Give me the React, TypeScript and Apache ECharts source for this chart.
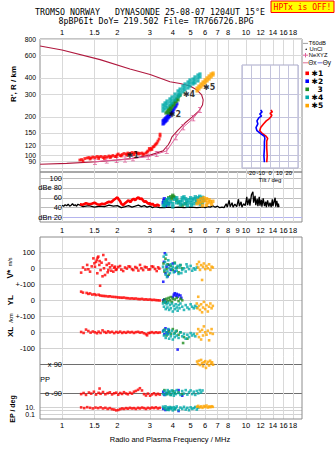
import React, { useEffect, useRef } from "react";
import * as echarts from "echarts";

type P = [number, number];

// ---------- axes / ticks ----------
const FREQ_TICKS_TOP = [1, 1.5, 2, 3, 4, 5, 6, 7, 8, 10, 12, 14, 16, 18];
const FREQ_TICKS_MID = [1, 1.5, 2, 3, 4, 5, 6, 7, 8, 9, 10, 12, 14, 16, 18];
const FREQ_TICKS_BOT = [1, 1.5, 2, 3, 4, 5, 6, 7, 8, 10, 12, 14, 16, 18];
const FREQ_RANGE = [0.759, 20.15];
const HEIGHT_TICKS = [80, 90, 100, 120, 150, 200, 300, 400, 600, 800];
const HEIGHT_RANGE = [74.8, 800];
const DB_TICKS = [20, 40, 60, 80, 100];
const DB_RANGE = [11, 112.2];
const V_RANGE = [-100, 195.6];
const V_TICKS = [0, 100];
const YL_RANGE = [-100, 100];
const YL_TICKS = [-100, 0, 100];
const XL_RANGE = [-150, 100];
const XL_TICKS = [-100, 0];
const PP_RANGE = [-132.1, 142.9];
const PP_LINES = [-90, 90];
const PP_LABELS = [-90, 0, 90];
const EP_RANGE = [0.00516, 828];
const EP_LINES = [0.1, 1, 10];
const EP_LABELS = [0.1, 10];
const TILT_RANGE = [-30, 30];
const TILT_TICKS = [-20, -10, 0, 10, 20];
const TILT_H_RANGE = [80.3, 503];
const TILT_H_TICKS = [90, 100, 120, 150, 200, 300, 400];

const MODE_NAMES = ["✱1", "✱2", "3", "✱4", "✱5"];
const MODE_COLORS = ["#ff0000", "#0000ff", "#1e8c1e", "#00aaaa", "#ffa500"];

// ---------- profiles ----------
const PROFILE: P[] = [
  [0.76, 706], [1.0, 657], [1.61, 554], [2.34, 469], [3.01, 425], [3.86, 374], [4.38, 362],
  [4.96, 346], [5.42, 322], [5.74, 295], [5.85, 270], [5.8, 247], [5.55, 222], [5.09, 199],
  [4.66, 179], [4.27, 158], [3.96, 140], [3.86, 128], [3.77, 121], [3.54, 109], [3.01, 101],
  [2.43, 95.4], [1.99, 92.6], [1.55, 89.8], [1.06, 87.3], [0.76, 85.8],
];
const NEXYZ: P[] = [
  [1.51, 89.8], [1.75, 91.8], [1.98, 92.6], [2.2, 93.4], [2.43, 95.4], [2.94, 98.2],
  [3.27, 103], [3.71, 109], [4.16, 139], [4.56, 166], [5.17, 195], [5.62, 226],
];

// ---------- virtual heights (MHz, km) ----------
const M1_H: P[] = [
  [1.25, 92.6], [1.28, 93.4], [1.3, 91.0], [1.33, 95.1], [1.37, 96.0], [1.4, 96.8], [1.42, 94.3],
  [1.44, 96.0], [1.47, 97.7], [1.51, 96.8], [1.55, 98.6], [1.58, 95.1], [1.59, 97.7], [1.63, 98.6],
  [1.67, 96.8], [1.7, 95.1], [1.71, 98.6], [1.76, 97.7], [1.8, 99.5], [1.83, 96.8], [1.85, 98.6],
  [1.89, 100.4], [1.94, 98.6], [1.97, 98.6], [1.99, 101.3], [2.02, 103.1], [2.07, 100.4], [2.1, 99.5],
  [2.12, 102.2], [2.17, 104.0], [2.23, 103.1], [2.25, 101.3], [2.28, 104.9], [2.34, 104.0],
  [2.4, 105.8], [2.45, 102.2], [2.46, 104.9], [2.52, 105.8], [2.59, 104.9], [2.6, 103.1],
  [2.65, 104.0], [2.72, 104.9], [2.75, 102.2], [2.79, 103.1], [2.86, 104.9], [2.9, 106.8],
  [2.93, 108.7], [2.98, 113.7], [3.01, 110.7], [3.05, 113.7], [3.08, 111.7], [3.12, 116.7],
  [3.16, 117.8], [3.2, 120.9], [3.24, 123.1], [3.28, 125.3], [3.32, 129.8], [3.37, 134.5],
  [3.41, 141.8], [3.41, 146.9],
];
const M2_H: P[] = [
  [3.54, 176], [3.54, 186], [3.58, 179], [3.58, 189], [3.63, 183], [3.63, 193], [3.67, 186],
  [3.67, 196], [3.72, 189], [3.72, 200], [3.77, 196], [3.77, 207], [3.81, 200], [3.81, 210],
  [3.86, 203], [3.86, 214], [3.91, 210], [3.91, 222], [3.96, 218], [3.96, 226], [4.01, 222],
  [4.06, 230], [4.11, 238], [4.16, 243], [4.21, 252],
];
const M3_H: P[] = [
  [3.67, 214], [3.72, 218], [3.77, 218], [3.77, 226], [3.81, 214], [3.81, 230], [3.86, 226],
  [3.86, 238], [3.91, 230], [3.91, 243], [3.96, 238], [3.96, 247], [4.01, 252], [4.06, 247],
  [4.06, 256], [4.11, 265], [4.16, 261], [4.16, 270], [4.21, 275], [4.27, 270], [4.27, 285],
  [4.32, 290], [4.38, 295],
];
const M4_H: P[] = [
  [3.54, 247], [3.54, 234], [3.54, 222], [3.63, 256], [3.63, 243], [3.63, 230], [3.72, 265],
  [3.72, 252], [3.72, 238], [3.86, 275], [3.86, 261], [3.86, 247], [3.96, 285], [3.96, 270],
  [3.96, 256], [4.11, 300], [4.11, 285], [4.11, 270], [4.27, 317], [4.27, 300], [4.27, 285],
  [4.38, 328], [4.38, 311], [4.38, 295], [4.54, 346], [4.54, 328], [4.54, 311], [4.66, 359],
  [4.66, 340], [4.66, 323], [4.84, 372], [4.84, 353], [4.84, 334], [4.96, 386], [4.96, 366],
  [4.96, 346], [5.15, 392], [5.15, 372], [5.15, 359], [5.28, 407], [5.28, 386], [5.28, 366],
  [5.48, 421], [5.48, 400], [5.48, 379], [5.62, 429], [5.62, 407],
];
const M5_H: P[] = [
  [5.42, 317], [5.42, 334], [5.55, 328], [5.55, 346], [5.69, 340], [5.69, 359], [5.84, 353],
  [5.84, 372], [5.99, 366], [5.99, 386], [6.14, 379], [6.14, 400], [6.3, 392], [6.3, 414],
  [6.46, 407], [6.46, 429], [6.62, 421], [6.62, 436],
];
const ANNOT_TEXT = ["✱1", "✱2", "✱4", "✱5"];
const ANNOT_FREQ = [2.42, 4.11, 4.9, 6.3];
const ANNOT_HEIGHT = [100.5, 209, 298, 340];

// ---------- amplitudes (MHz, dB) ----------
const NOISE_DB: P[] = [
  [1.0, 45], [1.02, 43], [1.04, 46], [1.06, 44], [1.08, 47], [1.1, 43], [1.12, 45], [1.14, 48],
  [1.16, 44], [1.18, 46], [1.2, 43], [1.22, 47], [1.25, 45], [1.3, 42], [1.4, 44], [1.5, 41],
  [1.6, 43], [1.7, 42], [1.8, 45], [1.9, 43], [2.0, 44], [2.1, 40], [2.2, 42], [2.3, 44],
  [2.4, 41], [2.5, 43], [2.6, 45], [2.7, 42], [2.8, 44], [2.9, 41], [3.0, 43], [3.1, 40],
  [3.2, 42], [3.3, 41], [3.4, 40], [3.6, 40], [3.8, 41], [4.0, 40], [4.3, 41], [4.6, 40],
  [5.0, 41], [5.4, 40], [5.8, 41], [6.0, 40], [6.2, 42], [6.4, 41], [6.6, 44], [6.8, 41],
  [7.0, 43], [7.2, 40], [7.4, 41], [7.6, 40], [7.8, 48], [7.9, 41], [8.1, 55], [8.2, 42],
  [8.4, 50], [8.5, 41], [8.7, 47], [8.9, 42], [9.1, 57], [9.2, 43], [9.4, 52], [9.5, 41],
  [9.7, 48], [9.9, 44], [10.1, 62], [10.2, 45], [10.4, 58], [10.5, 44], [10.7, 66], [10.9, 72],
  [11.0, 50], [11.2, 64], [11.3, 45], [11.5, 58], [11.6, 43], [11.8, 62], [11.9, 44], [12.1, 56],
  [12.2, 42], [12.4, 59], [12.6, 43], [12.8, 52], [12.9, 41], [13.1, 55], [13.3, 42], [13.5, 50],
  [13.7, 41], [13.9, 57], [14.0, 43], [14.2, 52], [14.4, 60], [14.5, 42], [14.7, 54], [14.9, 41],
  [15.0, 48], [15.1, 41],
];
const M1_DB: P[] = [
  [1.25, 47], [1.3, 46], [1.35, 49], [1.4, 47], [1.45, 48], [1.5, 50], [1.55, 47], [1.6, 46],
  [1.65, 48], [1.7, 47], [1.75, 50], [1.8, 52], [1.85, 51], [1.9, 55], [1.95, 58], [2.0, 61],
  [2.03, 57], [2.07, 53], [2.1, 48], [2.15, 45], [2.2, 49], [2.25, 52], [2.3, 55], [2.35, 51],
  [2.4, 56], [2.45, 58], [2.5, 55], [2.55, 59], [2.6, 61], [2.65, 57], [2.7, 59], [2.75, 55],
  [2.8, 52], [2.85, 53], [2.9, 50], [2.95, 48], [3.0, 49], [3.05, 46], [3.1, 48], [3.15, 45],
  [3.2, 44], [3.3, 46], [3.4, 43],
];
const M2_DB: P[] = [[3.55, 50], [3.6, 58], [3.65, 45], [3.7, 52], [3.8, 48], [3.58, 54]];
const M3_DB: P[] = [
  [3.7, 55], [3.8, 60], [3.9, 62], [4.0, 65], [4.1, 60], [4.2, 55], [4.3, 50], [4.5, 45],
  [4.7, 48], [3.95, 58], [4.05, 62],
];
const M4_DB: P[] = [
  [3.55, 45], [3.6, 52], [3.65, 48], [3.7, 56], [3.75, 50], [3.8, 58], [3.9, 52], [4.0, 48],
  [4.1, 57], [4.2, 60], [4.3, 53], [4.4, 46], [4.5, 55], [4.6, 62], [4.7, 58], [4.8, 50],
  [4.9, 56], [5.0, 60], [5.1, 55], [5.2, 58], [5.3, 62], [5.4, 57], [5.5, 60], [5.6, 63],
  [5.7, 58], [5.8, 61], [5.9, 55], [3.6, 44], [3.8, 46], [4.0, 42], [4.2, 50], [4.4, 52],
  [4.6, 48], [4.8, 44], [5.0, 50], [5.2, 48], [5.4, 50], [5.6, 52], [5.8, 50], [4.5, 60],
  [4.75, 54], [5.05, 45], [5.35, 53], [5.65, 47],
];
const M5_DB: P[] = [
  [5.42, 48], [5.5, 55], [5.6, 50], [5.7, 58], [5.8, 52], [5.9, 60], [6.0, 54], [6.1, 58],
  [6.2, 50], [6.3, 56], [6.4, 52], [6.5, 47], [6.6, 53], [6.1, 45], [5.8, 44],
];

// ---------- Doppler velocity V* (MHz, m/s) ----------
const M1_V: P[] = [
  [1.27, -27], [1.3, 5], [1.34, -8], [1.37, 21], [1.39, -6], [1.42, -21], [1.45, 12], [1.48, 62],
  [1.5, 31], [1.51, 10], [1.53, 40], [1.545, 52], [1.555, -31], [1.56, 66], [1.575, 73], [1.595, 21],
  [1.6, 45], [1.61, -109], [1.62, -11], [1.64, 35], [1.66, -50], [1.676, 83], [1.69, 0], [1.713, -42],
  [1.73, 55], [1.75, 21], [1.77, -25], [1.785, -11], [1.8, 30], [1.824, 6], [1.85, -15], [1.87, 18],
  [1.9, -21], [1.92, 4], [1.94, 10], [1.96, -10], [1.98, -6], [2.02, 8], [2.067, 14], [2.1, -8],
  [2.15, -17], [2.2, 5], [2.25, -2], [2.3, 12], [2.342, 10], [2.4, -5], [2.44, -11], [2.5, 8],
  [2.55, 2], [2.6, -14], [2.654, 21], [2.7, 0], [2.76, -11], [2.82, 9], [2.88, 6], [2.95, -8],
  [3.008, -6], [3.07, 12], [3.13, 10], [3.2, -4], [3.27, -17], [3.33, 6], [3.38, -2],
];
const M2_V: P[] = [
  [3.55, -84], [3.58, 40], [3.62, 94], [3.65, -30], [3.7, 10], [3.75, -50], [3.8, 20], [3.9, -10],
  [4.0, 30], [4.1, -20],
];
const M3_V: P[] = [
  [3.56, 30], [3.6, -20], [3.65, 60], [3.7, -5], [3.75, 25], [3.8, -40], [3.9, 15], [4.0, -10],
  [4.1, 35], [4.2, 5], [4.3, -25], [4.4, 20], [4.5, 0],
];
const M4_V: P[] = [
  [3.54, 10], [3.57, 73], [3.6, -10], [3.63, 40], [3.66, -40], [3.7, 20], [3.74, -20], [3.78, 50],
  [3.82, 0], [3.86, -30], [3.9, 25], [3.95, -5], [4.0, 10], [4.05, -25], [4.1, 30], [4.15, 0],
  [4.2, -15], [4.25, 15], [4.3, -35], [4.35, 5], [4.4, 20], [4.5, -10], [4.6, 0], [4.7, -20],
  [4.8, 10], [4.9, -5], [5.0, 15], [5.1, -15], [5.2, 0], [5.3, -8], [5.4, 5], [3.68, 85],
  [3.72, -55], [4.45, -30], [4.75, 25],
];
const M5_V: P[] = [
  [5.42, 25], [5.5, 5], [5.55, 40], [5.62, -10], [5.7, 20], [5.77, -73], [5.84, 10], [5.9, 30],
  [6.0, -5], [6.1, 15], [6.2, 0], [6.3, 25], [6.4, -10], [6.5, 10], [6.6, 5],
];

// ---------- YL (MHz, km) ----------
const M1_YL: P[] = [
  [1.27, 54], [1.3, 48], [1.36, 46], [1.39, 40], [1.42, 43], [1.46, 36], [1.5, 38], [1.53, 33],
  [1.58, 35], [1.61, 30], [1.65, 28], [1.69, 27], [1.73, 26], [1.78, 24], [1.82, 25], [1.87, 22],
  [1.92, 21], [1.97, 20], [2.02, 18], [2.07, 17], [2.12, 16], [2.17, 17], [2.23, 14], [2.28, 13],
  [2.34, 11], [2.4, 12], [2.46, 10], [2.52, 11], [2.59, 8], [2.65, 7], [2.72, 9], [2.79, 5],
  [2.86, 6], [2.93, 4], [3.01, 5], [3.08, 2], [3.16, 3], [3.24, 1], [3.32, 0], [3.4, -1],
];
const M2_YL: P[] = [
  [4.0, 20], [4.05, 35], [4.1, 44], [4.15, 28], [4.2, 40], [4.25, 22], [4.3, 35], [4.4, 30],
  [4.45, 15], [3.6, 5], [3.65, -10], [3.55, 0],
];
const M3_YL: P[] = [
  [3.55, -10], [3.6, 5], [3.65, -15], [3.7, 10], [3.75, -5], [3.8, 15], [3.86, 0], [3.9, 20],
  [3.95, -10], [4.0, 10], [4.1, 5], [4.2, 15], [4.3, -5], [4.4, 10], [4.5, 0],
];
const M4_YL: P[] = [
  [3.54, -20], [3.58, -40], [3.62, -10], [3.66, -55], [3.7, -25], [3.74, -45], [3.78, -15],
  [3.82, -60], [3.86, -30], [3.9, -50], [3.95, -20], [4.0, -70], [4.05, -35], [4.1, -55],
  [4.15, -25], [4.2, -45], [4.25, -65], [4.3, -30], [4.35, -50], [4.4, -20], [4.5, -40],
  [4.6, -60], [4.7, -30], [4.8, -45], [4.9, -55], [5.0, -25], [5.1, -40], [5.2, -50], [5.3, -35],
  [5.4, -45],
];
const M5_YL: P[] = [
  [5.4, -20], [5.45, -50], [5.5, 22], [5.55, -35], [5.62, -60], [5.7, -25], [5.77, -75],
  [5.84, -45], [5.9, -10], [6.0, -55], [6.1, -30], [6.2, -70], [6.3, -40], [6.4, -20], [6.5, -50],
  [6.6, -35],
];

// ---------- XL (MHz, km) ----------
const M1_XL: P[] = [
  [1.27, 2], [1.31, -4], [1.35, 17], [1.39, 8], [1.43, -2], [1.47, 5], [1.51, 0], [1.55, -6],
  [1.58, 4], [1.62, -4], [1.66, 12], [1.7, 2], [1.74, -3], [1.78, 6], [1.82, -1], [1.87, 3],
  [1.92, -5], [1.97, 2], [2.02, -2], [2.07, 4], [2.12, -4], [2.17, 1], [2.23, -3], [2.28, 3],
  [2.34, -1], [2.4, 2], [2.46, -4], [2.52, 1], [2.59, 3], [2.65, -2], [2.72, 0], [2.79, -6],
  [2.86, -12], [2.9, -19], [2.95, -5], [3.01, -3], [3.08, 1], [3.16, -4], [3.24, 0], [3.32, -3],
  [3.4, -1],
];
const M2_XL: P[] = [[3.55, 10], [3.6, -12], [3.65, 25], [3.7, 0], [3.75, -8], [3.8, 15], [4.25, -108]];
const M3_XL: P[] = [
  [3.6, 15], [3.7, -20], [3.8, 5], [3.9, -10], [4.0, 20], [4.1, -5], [4.2, 10], [4.3, -15],
  [4.4, 0], [4.6, -30], [4.8, -40], [4.55, -67],
];
const M4_XL: P[] = [
  [3.54, 5], [3.58, -20], [3.62, 15], [3.66, -35], [3.7, 0], [3.74, -15], [3.78, 20], [3.82, -40],
  [3.86, -5], [3.9, -25], [3.95, 10], [4.0, -45], [4.05, -10], [4.1, -30], [4.15, 5], [4.2, -20],
  [4.3, -35], [4.4, 0], [4.5, -25], [4.6, -10], [4.7, -40], [4.8, -15], [4.9, -30], [5.0, -5],
  [5.1, -20], [5.2, -10], [5.3, -25],
];
const M5_XL: P[] = [
  [5.42, -10], [5.5, 20], [5.55, -30], [5.62, 5], [5.7, -45], [5.77, 15], [5.84, -20], [5.9, 37],
  [6.0, 0], [6.1, -15], [6.2, 10], [6.3, -50], [6.4, -5], [6.5, 20], [6.6, -10],
];

// ---------- polarization PP (MHz, deg) ----------
const M1_PP: P[] = [
  [1.27, -95], [1.31, -88], [1.35, -100], [1.4, -85], [1.44, -92], [1.49, -80], [1.53, -98],
  [1.58, -87], [1.6, -60], [1.62, -93], [1.67, -82], [1.72, -96], [1.77, -89], [1.82, -84],
  [1.87, -97], [1.92, -90], [1.97, -86], [2.02, -99], [2.07, -88], [2.12, -94], [2.17, -83],
  [2.23, -91], [2.28, -96], [2.34, -86], [2.4, -92], [2.46, -80], [2.52, -75], [2.59, -68],
  [2.65, -58], [2.72, -72], [2.79, -95], [2.86, -104], [2.93, -92], [3.01, -105], [3.08, -97],
  [3.16, -90], [3.24, -100], [3.32, -93], [3.4, -98],
];
const M2_PP: P[] = [[3.55, -80], [3.6, -100], [3.7, -90], [4.3, -70], [4.5, -105]];
const M3_PP: P[] = [
  [3.6, -70], [3.7, -95], [3.8, -80], [3.9, -100], [4.0, -75], [4.1, -90], [4.3, -85], [4.5, -95],
];
const M4_PP: P[] = [
  [3.54, -95], [3.6, -75], [3.65, -100], [3.7, -85], [3.75, -70], [3.8, -95], [3.86, -80],
  [3.9, -100], [3.95, -72], [4.0, -90], [4.05, -105], [4.1, -78], [4.15, -95], [4.2, -70],
  [4.3, -88], [4.4, -100], [4.5, -76], [4.6, -92], [4.7, -70], [4.8, -98], [4.9, -82], [5.0, -72],
  [5.1, -95], [5.2, -80], [5.3, -100], [5.4, -75], [5.5, -90], [5.6, -70], [5.7, -85], [5.8, -72],
];
const M5_PP: P[] = [
  [5.42, 110], [5.48, 95], [5.55, 115], [5.62, 88], [5.7, 120], [5.77, 100], [5.84, 80],
  [5.9, 105], [6.0, 112], [6.06, 70], [6.14, 95], [6.22, 108], [6.3, 85], [6.38, 115], [6.46, 98],
  [6.54, 105], [6.62, 90],
];

// ---------- EP (MHz, deg) ----------
const M1_EP: P[] = [
  [1.27, 8], [1.32, 5], [1.37, 9], [1.42, 6], [1.47, 4], [1.52, 7], [1.57, 5], [1.62, 8], [1.67, 4],
  [1.72, 6], [1.77, 3], [1.82, 5], [1.87, 2.5], [1.92, 2], [1.97, 1.2], [2.02, 1.5], [2.07, 2.5],
  [2.12, 4], [2.17, 3], [2.23, 5], [2.28, 3.5], [2.34, 6], [2.4, 4], [2.46, 5], [2.52, 3], [2.59, 6],
  [2.65, 4], [2.72, 7], [2.79, 5], [2.86, 3], [2.93, 6], [3.01, 4], [3.08, 7], [3.16, 5], [3.24, 8],
  [3.32, 4], [3.4, 6],
];
const M2_EP: P[] = [[3.55, 3], [3.65, 1.5], [3.8, 4], [4.3, 0.8]];
const M3_EP: P[] = [[3.6, 5], [3.75, 2], [3.9, 6], [4.1, 3]];
const M4_EP: P[] = [
  [3.54, 12], [3.6, 4], [3.65, 15], [3.7, 2], [3.75, 8], [3.8, 1.5], [3.86, 10], [3.9, 3], [3.95, 6],
  [4.0, 1.2], [4.05, 9], [4.1, 2.5], [4.15, 5], [4.2, 14], [4.3, 1.5], [4.4, 7], [4.5, 3], [4.6, 11],
  [4.7, 2], [4.8, 6], [4.9, 1.3], [5.0, 8], [5.1, 3], [5.2, 5], [5.3, 10], [5.4, 2], [5.5, 6],
];
const M5_EP: P[] = [
  [5.42, 12], [5.5, 20], [5.6, 8], [5.7, 15], [5.8, 6], [5.9, 18], [6.0, 10], [6.1, 25], [6.2, 7],
  [6.3, 14], [6.4, 9], [6.5, 16], [6.6, 11],
];

// ---------- tilt inset (deg, km) ----------
const TILT_X: P[] = [
  [1, 226], [2.5, 218], [0, 212], [2, 206], [1, 200], [-1, 193], [-4, 186], [-7, 176], [-10, 165],
  [-11, 156], [-8, 148], [-4, 141], [-2.5, 136], [-3.5, 130], [-3.5, 115], [-3, 100], [-3.5, 89],
];
const TILT_Y: P[] = [
  [-10, 226], [-8.5, 218], [-11, 210], [-9, 203], [-12, 196], [-14, 186], [-13, 176], [-15, 165],
  [-14, 156], [-10, 148], [-6, 141], [-5.5, 136], [-6, 128], [-6, 115], [-6.5, 100], [-6, 89],
];

// ---------- helpers ----------
const SANS = "Liberation Sans, Arial, sans-serif";
const MONO = "DejaVu Sans Mono, Liberation Mono, monospace";
const L = Math.log10;
const fx = (pts: P[]) => pts.map(([f, v]) => [L(f), v]);
const fxl = (pts: P[]) => pts.map(([f, v]) => [L(f), L(v)]);

const fmtFreq = (v: number) => String(Math.round(Math.pow(10, v) * 10) / 10);

function freqAxis(gi: number, grid: number[], labels: number[] | null, position: string, margin: number) {
  return {
    type: "value",
    gridIndex: gi,
    position,
    min: L(FREQ_RANGE[0]),
    max: L(FREQ_RANGE[1]),
    axisLine: { show: false },
    axisTick: { show: false, customValues: grid.map(L) },
    axisLabel: labels
      ? { show: true, customValues: labels.map(L), formatter: fmtFreq, fontSize: 7.5, fontFamily: SANS, color: "#000", margin }
      : { show: false },
    splitLine: { show: true, lineStyle: { color: "#d9d9d9", width: 1 } },
  };
}

function valAxis(gi: number, min: number, max: number, lines: number[], labels: number[], formatter: any, extra: any = {}) {
  return {
    type: "value",
    gridIndex: gi,
    min,
    max,
    axisLine: { show: false },
    axisTick: { show: false, customValues: lines },
    axisLabel: { show: true, customValues: labels, formatter, fontSize: 7.5, fontFamily: SANS, color: "#000", margin: 5, ...(extra.axisLabel || {}) },
    splitLine: { show: true, lineStyle: { color: "#d2d2d2", width: 1, ...(extra.lineStyle || {}) } },
    ...(extra.axis || {}),
  };
}

function scat(gi: number, data: any[], color: string, size = 2.6, z = 3) {
  return {
    type: "scatter",
    xAxisIndex: gi,
    yAxisIndex: gi,
    data,
    symbol: "rect",
    symbolSize: size,
    itemStyle: { color },
    silent: true,
    clip: false,
    z,
  };
}

function buildOption() {
  const grids = [
    { left: 40, top: 39, width: 262, height: 133, show: true, borderColor: "#8c8c8c", borderWidth: 1 },
    { left: 40, top: 172, width: 262, height: 50, show: true, borderColor: "#8c8c8c", borderWidth: 1 },
    { left: 40, top: 237, width: 262, height: 47.3 },
    { left: 40, top: 284.3, width: 262, height: 32 },
    { left: 40, top: 316.3, width: 262, height: 40 },
    { left: 40, top: 356.3, width: 262, height: 43.7 },
    { left: 40, top: 400, width: 262, height: 19 },
    { left: 242, top: 65, width: 56, height: 103, show: true, borderColor: "#a8a8c8", borderWidth: 1, backgroundColor: "#fff", z: 4 },
  ];

  const xAxis: any[] = [
    freqAxis(0, FREQ_TICKS_TOP, FREQ_TICKS_TOP, "top", 2.5),
    freqAxis(1, FREQ_TICKS_MID, FREQ_TICKS_MID, "bottom", 4),
    freqAxis(2, FREQ_TICKS_BOT, null, "bottom", 0),
    freqAxis(3, FREQ_TICKS_BOT, null, "bottom", 0),
    freqAxis(4, FREQ_TICKS_BOT, null, "bottom", 0),
    freqAxis(5, FREQ_TICKS_BOT, null, "bottom", 0),
    freqAxis(6, FREQ_TICKS_BOT, FREQ_TICKS_BOT, "bottom", 2),
    {
      type: "value",
      gridIndex: 7,
      min: TILT_RANGE[0],
      max: TILT_RANGE[1],
      interval: 10,
      z: 5,
      axisLine: { show: false },
      axisTick: { show: false },
      axisLabel: { customValues: TILT_TICKS, fontSize: 5.8, fontFamily: SANS, color: "#000", margin: 1.5 },
      splitLine: { show: true, lineStyle: { color: "#c4c4dc" } },
      name: "Tilt / deg",
      nameLocation: "middle",
      nameGap: 9,
      nameTextStyle: { fontSize: 6, fontFamily: SANS, color: "#000" },
    },
  ];

  const yAxis: any[] = [
    valAxis(0, L(HEIGHT_RANGE[0]), L(HEIGHT_RANGE[1]), HEIGHT_TICKS.map(L), HEIGHT_TICKS.map(L),
      (v: number) => String(Math.round(Math.pow(10, v))), { axisLabel: { margin: 4, fontSize: 6.8 }, lineStyle: { color: "#d9d9d9" } }),
    valAxis(1, DB_RANGE[0], DB_RANGE[1], DB_TICKS, DB_TICKS,
      (v: number) => (v === 20 ? "dBn 20" : v === 80 ? "dBe 80" : String(v)),
      { axis: { offset: -24 }, axisLabel: { margin: 2 }, lineStyle: { color: ["#b4b4ee", "#bdbdbd", "#bdbdbd", "#bdbdbd", "#bdbdbd"] } }),
    valAxis(2, V_RANGE[0], V_RANGE[1], V_TICKS, V_TICKS, (v: number) => String(v)),
    valAxis(3, YL_RANGE[0], YL_RANGE[1], YL_TICKS, YL_TICKS, (v: number) => (v === 0 ? "0" : "+-100")),
    valAxis(4, XL_RANGE[0], XL_RANGE[1], XL_TICKS, XL_TICKS, (v: number) => String(v)),
    valAxis(5, PP_RANGE[0], PP_RANGE[1], PP_LINES, PP_LABELS,
      (v: number) => (v > 0 ? "x 90" : v < 0 ? "o -90" : "{pp|PP}"),
      {
        axis: { offset: -24 },
        axisLabel: { margin: 2, rich: { pp: { padding: [0, 12, 0, 0], fontSize: 7.5, fontFamily: SANS, color: "#000" } } },
        lineStyle: { color: "#6e6e6e" },
      }),
    valAxis(6, L(EP_RANGE[0]), L(EP_RANGE[1]), EP_LINES.map(L), EP_LABELS.map(L),
      (v: number) => (v > 0 ? "10." : "0.1"), { axisLabel: { fontSize: 7 }, lineStyle: { color: "#d2d2d2" } }),
    {
      type: "value",
      gridIndex: 7,
      min: L(TILT_H_RANGE[0]),
      max: L(TILT_H_RANGE[1]),
      z: 5,
      axisLine: { show: false },
      axisTick: { show: false, customValues: TILT_H_TICKS.map(L) },
      axisLabel: { show: false },
      splitLine: { show: true, lineStyle: { color: "#c4c4dc" } },
    },
  ];

  const modeH = [M1_H, M2_H, M3_H, M4_H, M5_H];
  const modeDB = [M1_DB, M2_DB, M3_DB, M4_DB, M5_DB];
  const modeV = [M1_V, M2_V, M3_V, M4_V, M5_V];
  const modeYL = [M1_YL, M2_YL, M3_YL, M4_YL, M5_YL];
  const modeXL = [M1_XL, M2_XL, M3_XL, M4_XL, M5_XL];
  const modePP = [M1_PP, M2_PP, M3_PP, M4_PP, M5_PP];
  const modeEP = [M1_EP, M2_EP, M3_EP, M4_EP, M5_EP];

  const series: any[] = [];
  series.push({
    type: "line", xAxisIndex: 0, yAxisIndex: 0, data: fxl(PROFILE), showSymbol: false, silent: true,
    lineStyle: { color: "#b0183e", width: 1.1 }, z: 2,
  });
  series.push({
    type: "line", xAxisIndex: 0, yAxisIndex: 0, data: fxl(NEXYZ), silent: true,
    symbol: "path://M0,0H5V1H3V7H5V8H0V7H2V1H0Z", symbolSize: [4, 6], showSymbol: true,
    itemStyle: { color: "#e0609a" }, lineStyle: { color: "#e0609a", width: 1 }, z: 2,
  });
  series.push({
    type: "line", xAxisIndex: 1, yAxisIndex: 1, data: fx(NOISE_DB), showSymbol: false, silent: true,
    lineStyle: { color: "#000", width: 1.3 }, z: 2,
  });

  modeH.forEach((d, i) => {
    series.push(scat(0, fxl(d), MODE_COLORS[i], i === 0 ? 2.8 : 3.2, 3));
  });
  series.push({
    type: "scatter", xAxisIndex: 0, yAxisIndex: 0, silent: true, z: 6, symbolSize: 0,
    data: ANNOT_TEXT.map((t, i) => ({ value: [L(ANNOT_FREQ[i]), L(ANNOT_HEIGHT[i])], name: t })),
    label: { show: true, position: "inside", formatter: (p: any) => p.name, color: "#000", fontSize: 8, fontWeight: "bold", fontFamily: "DejaVu Sans, sans-serif" },
  });
  series.push({
    type: "line", xAxisIndex: 1, yAxisIndex: 1, data: fx(M1_DB), showSymbol: false, silent: true,
    lineStyle: { color: MODE_COLORS[0], width: 2.6 }, z: 3,
  });
  [1, 2, 3, 4].forEach((i) => series.push(scat(1, fx(modeDB[i]), MODE_COLORS[i], 3.4, 3)));
  [modeV, modeYL, modeXL, modePP].forEach((arr, k) => {
    arr.forEach((d, i) => series.push(scat(2 + k, fx(d), MODE_COLORS[i], 2.6, 3)));
  });
  modeEP.forEach((d, i) => series.push(scat(6, fxl(d), MODE_COLORS[i], 2.6, 3)));
  series.push({
    type: "line", xAxisIndex: 7, yAxisIndex: 7, data: TILT_X.map(([t, h]) => [t, L(h)]), showSymbol: false,
    silent: true, lineStyle: { color: "#ff0000", width: 1.6 }, z: 6,
  });
  series.push({
    type: "line", xAxisIndex: 7, yAxisIndex: 7, data: TILT_Y.map(([t, h]) => [t, L(h)]), showSymbol: false,
    silent: true, lineStyle: { color: "#0000ff", width: 1.6 }, z: 6,
  });

  const legendRows = [73.3, 81.2, 89.3, 97.3, 105.6];
  const LEG = `5.8px ${SANS}`;
  const graphic: any[] = [
    { type: "rect", shape: { x: 40, y: 237, width: 262, height: 182 }, style: { fill: "none", stroke: "#8c8c8c", lineWidth: 1 }, z: 10 },
    { type: "text", x: 150, y: 12, style: { text: "TROMSO NORWAY   DYNASONDE 25-08-07 1204UT 15°E", font: `8.3px ${MONO}`, fill: "#000", align: "center", verticalAlign: "middle" } },
    { type: "text", x: 156, y: 20.8, style: { text: "8pBP6It DoY= 219.502 File= TR766726.BPG", font: `8.3px ${MONO}`, fill: "#000", align: "center", verticalAlign: "middle" } },
    { type: "rect", shape: { x: 271, y: 1, width: 63, height: 11.5 }, style: { fill: "#ffff00", stroke: "#ff0000", lineWidth: 1 } },
    { type: "text", x: 302.5, y: 7, style: { text: "HPTx is OFF!", font: `8px ${MONO}`, fill: "#ff0000", align: "center", verticalAlign: "middle" } },
    { type: "text", x: 170, y: 439.3, style: { text: "Radio and Plasma Frequency / MHz", font: `7.5px ${SANS}`, fill: "#000", align: "center", verticalAlign: "middle" } },
    { type: "text", x: 13, y: 84, rotation: Math.PI / 2, style: { text: "R', R / km", font: `bold 8px ${SANS}`, fill: "#000", align: "center", verticalAlign: "middle" } },
    {
      type: "text", x: 10, y: 268, rotation: Math.PI / 2,
      style: {
        text: "{a|V*} {b|m/s}", align: "center", verticalAlign: "middle",
        rich: { a: { font: `bold 8.5px ${SANS}`, fill: "#000" }, b: { font: `5.5px ${SANS}`, fill: "#000" } },
      },
    },
    { type: "text", x: 10, y: 300.3, rotation: Math.PI / 2, style: { text: "YL", font: `bold 8px ${SANS}`, fill: "#000", align: "center", verticalAlign: "middle" } },
    { type: "text", x: 11, y: 318, rotation: Math.PI / 2, style: { text: "/km", font: `6px ${SANS}`, fill: "#000", align: "center", verticalAlign: "middle" } },
    { type: "text", x: 10, y: 332, rotation: Math.PI / 2, style: { text: "XL", font: `bold 8px ${SANS}`, fill: "#000", align: "center", verticalAlign: "middle" } },
    { type: "text", x: 12.7, y: 409, rotation: Math.PI / 2, style: { text: "EP / deg", font: `bold 7px ${SANS}`, fill: "#000", align: "center", verticalAlign: "middle" } },
    // legend
    { type: "line", shape: { x1: 303, y1: 43.4, x2: 308, y2: 43.4 }, style: { stroke: "#a0a0a0", lineWidth: 1 } },
    { type: "text", x: 308.8, y: 43.4, style: { text: "T60dB", font: LEG, fill: "#000", verticalAlign: "middle" } },
    { type: "circle", shape: { cx: 306.2, cy: 49.3, r: 0.7 }, style: { fill: "#000" } },
    { type: "text", x: 309.5, y: 49.3, style: { text: "UnCl", font: LEG, fill: "#000", verticalAlign: "middle" } },
    { type: "line", shape: { x1: 303, y1: 55.2, x2: 308, y2: 55.2 }, style: { stroke: "#e0609a", lineWidth: 1 } },
    { type: "line", shape: { x1: 305.5, y1: 53, x2: 305.5, y2: 57.4 }, style: { stroke: "#e0609a", lineWidth: 1 } },
    { type: "text", x: 308.8, y: 55.2, style: { text: "NeXYZ", font: LEG, fill: "#000", verticalAlign: "middle" } },
    { type: "line", shape: { x1: 303, y1: 62.8, x2: 308, y2: 62.8 }, style: { stroke: "#e07090", lineWidth: 1 } },
    { type: "text", x: 308.3, y: 62.8, style: { text: "Θx", font: `6.5px ${SANS}`, fill: "#000", verticalAlign: "middle" } },
    { type: "line", shape: { x1: 317.5, y1: 62.8, x2: 322.5, y2: 62.8 }, style: { stroke: "#7070e0", lineWidth: 1 } },
    { type: "text", x: 322.8, y: 62.8, style: { text: "Θy", font: `6.5px ${SANS}`, fill: "#000", verticalAlign: "middle" } },
  ];
  MODE_NAMES.forEach((n, i) => {
    graphic.push({ type: "rect", shape: { x: 305.4, y: legendRows[i] - 1.8, width: 3.6, height: 3.6 }, style: { fill: MODE_COLORS[i] } });
    graphic.push({
      type: "text", x: n.length === 1 ? 317.6 : 311.6, y: legendRows[i],
      style: { text: n, font: `bold 7.5px DejaVu Sans, sans-serif`, fill: "#000", verticalAlign: "middle" },
    });
  });

  return {
    animation: false,
    backgroundColor: "#fff",
    grid: grids,
    xAxis,
    yAxis,
    series,
    graphic,
  };
}

export default function App() {
  const ref = useRef<HTMLDivElement>(null);
  useEffect(() => {
    document.body.style.margin = "0";
    const chart = echarts.init(ref.current as HTMLDivElement, null, { renderer: "svg" });
    chart.setOption(buildOption() as any);
    return () => chart.dispose();
  }, []);
  return <div ref={ref} style={{ width: 335, height: 451 }} />;
}
